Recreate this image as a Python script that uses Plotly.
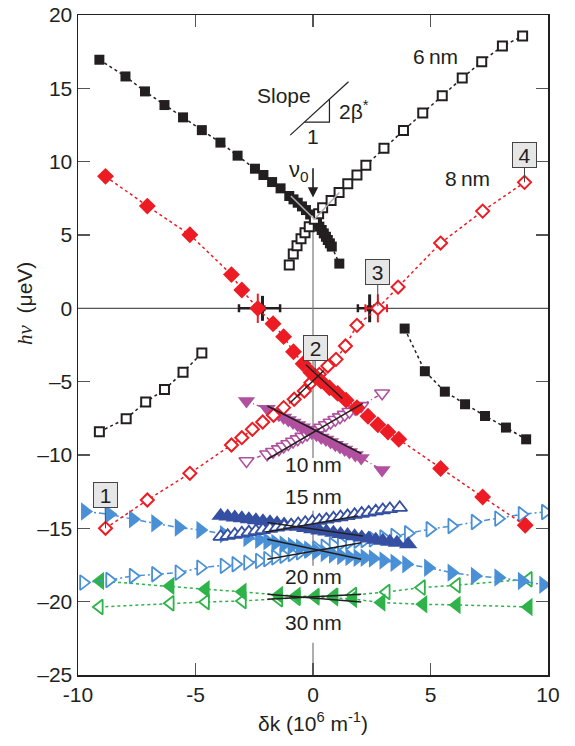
import plotly.graph_objects as go

# ---------------- data ----------------
# 6 nm
nm6_fill_x = [-9.09, -7.98, -7.15, -6.32, -5.53, -4.73, -3.94, -3.21, -2.47, -2.11, -1.74, -1.38, -1.01,
              -0.83, -0.65, -0.47, -0.30, -0.12, 0.06, 0.17, 0.27, 0.37, 0.46, 0.55, 0.63, 0.72, 0.80, 1.12]
nm6_fill_y = [16.95, 15.81, 14.79, 13.86, 13.02, 12.15, 11.30, 10.41, 9.52, 9.09, 8.61, 8.18, 7.66,
              7.43, 7.20, 6.95, 6.70, 6.40, 6.07, 5.82, 5.57, 5.34, 5.11, 4.88, 4.66, 4.43, 4.21, 3.05]
nm6_open_x = [-1.01, -0.84, -0.68, -0.51, -0.34, -0.16, 0.06, 0.24, 0.41, 0.77, 1.11, 1.48, 1.87, 2.25,
              3.02, 3.85, 4.67, 5.50, 6.35, 7.18, 8.06, 8.92]
nm6_open_y = [2.95, 3.70, 4.27, 4.75, 5.16, 5.57, 6.07, 6.45, 6.86, 7.36, 7.89, 8.50, 9.09, 9.75,
              10.91, 12.13, 13.31, 14.50, 15.70, 16.82, 17.88, 18.56]
nm6_low_open_x = [-9.09, -7.95, -7.12, -6.32, -5.53, -4.73]
nm6_low_open_y = [-8.41, -7.52, -6.39, -5.54, -4.36, -3.05]
nm6_low_fill_x = [3.90, 4.76, 5.61, 6.47, 7.32, 8.21, 9.07]
nm6_low_fill_y = [-1.38, -4.29, -5.68, -6.54, -7.34, -8.13, -8.93]

# 8 nm
nm8_fill_x = [-8.83, -7.05, -5.24, -3.47, -3.03, -2.35, -1.70, -1.25, -0.83, -0.42, -0.09, 0.10, 0.34,
              0.70, 1.05, 1.41, 1.87, 2.34, 2.76, 3.19, 3.65, 5.43, 7.22, 9.03]
nm8_fill_y = [9.00, 6.97, 5.02, 2.30, 1.25, 0.00, -1.05, -1.93, -2.96, -3.78, -4.38, -4.65, -4.96,
              -5.41, -5.80, -6.26, -6.77, -7.36, -7.94, -8.43, -8.93, -10.92, -12.86, -14.79]
nm8_open_x = [-8.83, -7.05, -5.24, -3.47, -3.03, -2.58, -2.14, -1.68, -1.25, -0.80, -0.37, -0.09, 0.27,
              0.63, 0.98, 1.38, 1.87, 2.76, 3.62, 5.43, 7.22, 9.00]
nm8_open_y = [-15.00, -13.07, -11.25, -9.32, -8.82, -8.25, -7.75, -7.29, -6.77, -6.20, -5.64, -5.07, -4.50,
              -3.93, -3.48, -2.57, -1.16, 0.00, 1.45, 4.45, 6.63, 8.59]

# 10 nm
nm10_x = [-2.83, -1.95, -1.70, -1.45, -1.25, -1.05, -0.85, -0.65, -0.45, -0.25, -0.05, 0.15, 0.35,
          0.55, 0.75, 0.95, 1.15, 1.35, 1.55, 1.80, 2.05, 2.94]
nm10_fill_y = [-6.32, -6.85, -7.05, -7.25, -7.45, -7.62, -7.78, -7.95, -8.10, -8.28, -8.45, -8.62, -8.80,
               -8.95, -9.12, -9.30, -9.46, -9.62, -9.80, -10.00, -10.20, -11.02]
nm10_open_y = [-10.41, -9.95, -9.78, -9.60, -9.42, -9.25, -9.08, -8.92, -8.75, -8.60, -8.45, -8.28, -8.12,
               -7.95, -7.78, -7.60, -7.42, -7.25, -7.05, -6.85, -6.65, -5.79]

# 15 nm
nm15_fill_x = [-3.93, -3.63, -3.33, -3.03, -2.73, -2.43, -2.13, -1.83, -1.53, -1.23, -0.93, -0.63, -0.33,
               -0.03, 0.27, 0.57, 0.87, 1.17, 1.47, 1.77, 2.07, 2.37, 2.67, 2.97, 3.27, 3.57, 4.05]
nm15_fill_y = [-14.15, -14.20, -14.26, -14.32, -14.38, -14.45, -14.52, -14.59, -14.66, -14.74, -14.82, -14.90,
               -14.98, -15.06, -15.14, -15.22, -15.30, -15.38, -15.46, -15.54, -15.62, -15.70, -15.78,
               -15.85, -15.92, -15.99, -16.09]
nm15_open_x = [-3.93, -3.63, -3.33, -3.03, -2.73, -2.43, -2.13, -1.83, -1.53, -1.23, -0.93, -0.63, -0.33,
               -0.03, 0.27, 0.57, 0.87, 1.17, 1.47, 1.77, 2.07, 2.37, 2.67, 2.97, 3.27, 3.69]
nm15_open_y = [-15.57, -15.50, -15.42, -15.34, -15.26, -15.18, -15.10, -15.02, -14.94, -14.86, -14.78,
               -14.70, -14.62, -14.55, -14.47, -14.39, -14.31, -14.23, -14.15, -14.07, -13.99, -13.91,
               -13.83, -13.75, -13.68, -13.59]

# 20 nm
nm20_fill_x = [-9.70, -8.66, -7.66, -6.71, -5.71, -4.79, -3.79, -2.79, -2.29, -1.94, -1.60, -1.25, -0.90,
               -0.55, -0.20, 0.15, 0.50, 0.85, 1.20, 1.55, 1.90, 2.20, 2.55, 3.00, 3.47, 3.97, 4.90,
               5.90, 6.89, 7.89, 8.89, 9.80]
nm20_fill_y = [-13.86, -14.04, -14.38, -14.66, -14.95, -15.11, -15.41, -15.66, -15.78, -15.88, -16.00,
               -16.10, -16.20, -16.32, -16.45, -16.57, -16.68, -16.78, -16.88, -16.95, -17.00, -17.00,
               -17.05, -17.20, -17.34, -17.45, -17.68, -18.02, -18.25, -18.36, -18.59, -18.85]
nm20_open_x = [-9.77, -8.66, -7.66, -6.71, -5.71, -4.79, -3.79, -3.29, -2.79, -2.29, -1.94, -1.60, -1.25,
               -0.90, -0.55, -0.20, 0.15, 0.50, 0.85, 1.20, 1.55, 1.90, 2.20, 2.55, 3.00, 3.47, 4.05,
               4.97, 5.90, 6.89, 7.89, 8.89, 9.88]
nm20_open_y = [-18.70, -18.52, -18.25, -18.13, -18.02, -17.68, -17.56, -17.45, -17.34, -17.22, -17.10,
               -16.98, -16.87, -16.75, -16.63, -16.50, -16.38, -16.26, -16.14, -16.03, -15.93, -15.85,
               -15.80, -15.75, -15.62, -15.52, -15.34, -15.06, -14.84, -14.57, -14.34, -14.04, -13.89]

# 30 nm
nm30_fill_x = [-9.06, -6.07, -4.57, -3.00, -1.45, -0.70, 0.10, 0.90, 1.70, 2.91, 4.69, 6.11, 9.17]
nm30_fill_y = [-18.59, -18.93, -19.15, -19.33, -19.55, -19.60, -19.66, -19.72, -19.82, -20.06, -20.18,
               -20.22, -20.36]
nm30_open_x = [-9.09, -6.07, -4.57, -3.00, -1.45, -0.70, 0.10, 0.90, 1.70, 3.12, 4.62, 6.11, 9.17]
nm30_open_y = [-20.36, -20.11, -20.02, -19.95, -19.84, -19.74, -19.65, -19.60, -19.55, -19.34, -19.04,
               -18.88, -18.47]

# fitted slope lines (x0, y0, x1, y1)
fit_lines_gray = [(-0.94, 7.66, 0.06, 6.07), (0.06, 6.07, 1.12, 7.89)]
fit_lines_black = [
    (-0.95, -6.40, 0.45, -4.25), (-0.30, -3.85, 1.25, -6.15),          # 8 nm
    (-1.94, -6.66, 2.05, -9.90), (-1.94, -10.29, 2.12, -6.48),         # 10 nm
    (-2.00, -15.25, 1.91, -14.16), (-1.94, -14.61, 2.12, -15.52),      # 15 nm
    (-1.94, -15.75, 2.05, -17.11), (-1.94, -17.11, 2.05, -15.98),      # 20 nm
    (-1.94, -19.50, 2.05, -20.02), (-1.94, -19.83, 2.05, -19.50),      # 30 nm
]

# error-bar points at hv = 0
err_black_x = [-2.15, 2.41]
err_black_xm = [1.00, 0.50]
err_black_xp = [0.75, 0.20]
err_black_ey = [0.85, 0.95]
err_red_x = [-2.35, 2.76]
err_red_xm = [0.15, 0.53]
err_red_xp = [0.15, 0.39]
err_red_ey = [1.00, 0.96]

# numbered callouts: label, box centre, target point
callout_labels = ["1", "2", "3", "4"]
callout_box = [(-8.85, -12.7), (0.09, -2.68), (2.75, 2.49), (9.0, 10.48)]
callout_pt = [(-8.83, -15.0), (0.09, -4.4), (2.76, 0.15), (9.0, 8.59)]

# width labels
width_labels = ["6\u2009nm", "8\u2009nm", "10\u2009nm", "15\u2009nm", "20\u2009nm", "30\u2009nm"]
width_pos = [(5.21, 17.2), (6.56, 8.86), (0.0, -10.63), (0.0, -12.85), (0.0, -18.25), (0.0, -21.4)]

x_ticks = [-10, -5, 0, 5, 10]
x_ticktext = ["-10", "-5", "0", "5", "10"]
y_ticks = [-25, -20, -15, -10, -5, 0, 5, 10, 15, 20]
y_ticktext = ["\u201325", "\u201320", "\u201315", "\u201310", "\u20135", "0", "5", "10", "15", "20"]

# ---------------- colours ----------------
BLACK = "#231f20"
RED = "#ed1c24"
PURPLE = "#b0509e"
DBLUE = "#3550a2"
LBLUE = "#4a90d6"
GREEN = "#2db34a"

fig = go.Figure()

# reference lines (y = 0, x = 0 segments)
AX = "#555555"
fig.add_shape(type="line", x0=-10, x1=10, y0=0, y1=0, line=dict(color=AX, width=1.2), layer="below")
for (ya, yb) in [(6.07, -10.2), (-13.8, -17.55), (-22.8, -25)]:
    fig.add_shape(type="line", x0=0, x1=0, y0=ya, y1=yb, line=dict(color="#777777", width=1.2), layer="below")


def series(x, y, sym, color, size, dash, filled, lw=1.5, mlw=2.0):
    fig.add_trace(go.Scatter(
        x=x, y=y, mode="lines+markers",
        line=dict(color=color, width=lw, dash=dash),
        marker=dict(symbol=sym, size=size,
                    color=color if filled else "white",
                    line=dict(color=color, width=0 if filled else mlw)),
        showlegend=False, hoverinfo="skip"))


# error bars first
fig.add_trace(go.Scatter(
    x=err_black_x, y=[0, 0], mode="markers",
    marker=dict(size=6, color=BLACK, symbol="square"),
    error_x=dict(type="data", symmetric=False, array=err_black_xp, arrayminus=err_black_xm,
                 color=BLACK, thickness=2.5, width=4),
    error_y=dict(type="data", array=err_black_ey, color=BLACK, thickness=3, width=0),
    showlegend=False, hoverinfo="skip"))
fig.add_trace(go.Scatter(
    x=err_red_x, y=[0, 0], mode="markers",
    marker=dict(size=1, color=RED),
    error_x=dict(type="data", symmetric=False, array=err_red_xp, arrayminus=err_red_xm,
                 color=RED, thickness=2, width=4),
    error_y=dict(type="data", array=err_red_ey, color=RED, thickness=2, width=0),
    showlegend=False, hoverinfo="skip"))

# 30 nm
series(nm30_open_x, nm30_open_y, "triangle-left", GREEN, 13, "3px,3px", False, mlw=1.8)
series(nm30_fill_x, nm30_fill_y, "triangle-left", GREEN, 16, "3px,3px", True)
# 20 nm
series(nm20_open_x, nm20_open_y, "triangle-right", LBLUE, 13, "6px,3px,2px,3px", False, mlw=1.8)
series(nm20_fill_x, nm20_fill_y, "triangle-right", LBLUE, 16, "6px,3px,2px,3px", True)
# 15 nm
series(nm15_fill_x, nm15_fill_y, "triangle-up", DBLUE, 16, "solid", True, lw=0.5)
series(nm15_open_x, nm15_open_y, "triangle-up", DBLUE, 13, "solid", False, lw=0.5, mlw=1.8)
# 10 nm
series(nm10_x, nm10_open_y, "triangle-down", PURPLE, 13, "4px,3px,1px,3px", False, mlw=1.6)
series(nm10_x, nm10_fill_y, "triangle-down", PURPLE, 15, "4px,3px,1px,3px", True)
# 8 nm
series(nm8_open_x, nm8_open_y, "diamond", RED, 10, "dot", False, mlw=2)
series(nm8_fill_x, nm8_fill_y, "diamond", RED, 13, "dot", True)
# 6 nm
series(nm6_low_open_x, nm6_low_open_y, "square", BLACK, 9, "dot", False, mlw=2)
series(nm6_low_fill_x, nm6_low_fill_y, "square", BLACK, 10, "dot", True)
series(nm6_fill_x, nm6_fill_y, "square", BLACK, 10, "dot", True)
series(nm6_open_x, nm6_open_y, "square", BLACK, 9, "dot", False, mlw=2)

# fitted lines
for (x0, y0, x1, y1) in fit_lines_gray:
    fig.add_trace(go.Scatter(x=[x0, x1], y=[y0, y1], mode="lines",
                             line=dict(color="#b0b0b0", width=1.5), showlegend=False, hoverinfo="skip"))
for (x0, y0, x1, y1) in fit_lines_black:
    fig.add_trace(go.Scatter(x=[x0, x1], y=[y0, y1], mode="lines",
                             line=dict(color=BLACK, width=1.5), showlegend=False, hoverinfo="skip"))

# slope triangle
fig.add_shape(type="line", x0=-0.97, y0=11.81, x1=1.51, y1=15.45, line=dict(color=BLACK, width=1.2))
fig.add_shape(type="path", path="M -0.36 12.70 L 0.70 12.70 L 0.70 14.26", line=dict(color=BLACK, width=1.2))

annotations = []
FONT = "Arial, Liberation Sans, Helvetica, sans-serif"
TF = dict(size=21, family=FONT, color=BLACK)
annotations.append(dict(x=-1.24, y=14.52, text="Slope", showarrow=False, font=TF))
annotations.append(dict(x=0.0, y=11.75, text="1", showarrow=False, font=TF))
annotations.append(dict(x=1.75, y=13.55, text="2β<sup>*</sup>", showarrow=False, font=TF))
annotations.append(dict(x=-0.58, y=9.35, text="ν<sub>0</sub>", showarrow=False, font=dict(size=22, family=FONT, color=BLACK)))
annotations.append(dict(x=0, y=7.55, ax=0, ay=9.65, axref="x", ayref="y", xref="x", yref="y", text="",
                        showarrow=True, arrowhead=2, arrowsize=1.3, arrowwidth=1.6, arrowcolor=BLACK))
for t, (xx, yy) in zip(width_labels, width_pos):
    annotations.append(dict(x=xx, y=yy, text=t, showarrow=False, font=TF))
for t, (bx, by), (px, py) in zip(callout_labels, callout_box, callout_pt):
    annotations.append(dict(x=px, y=py, ax=bx, ay=by, axref="x", ayref="y", text=t,
                            showarrow=True, arrowhead=0, arrowwidth=1, arrowcolor="#444",
                            bgcolor="#e6e6e6", bordercolor="#444", borderwidth=1, borderpad=2,
                            width=19, height=20, font=TF))
# axis titles placed as annotations
annotations.append(dict(xref="paper", x=0, xanchor="center", xshift=-53, yref="y", y=0.3,
                        text="<i style='font-family:Liberation Serif'>hν</i>  (μeV)", textangle=-90,
                        showarrow=False, font=TF))
annotations.append(dict(xref="x", x=0, yref="paper", y=0, yanchor="middle", yshift=-47,
                        text="δk (10<sup>6</sup> m<sup>-1</sup>)", showarrow=False, font=TF))

fig.update_layout(
    width=575, height=746,
    margin=dict(l=78, r=27, t=15, b=71),
    plot_bgcolor="white", paper_bgcolor="white",
    font=dict(family=FONT, size=21, color=BLACK),
    annotations=annotations,
    showlegend=False,
)
fig.update_xaxes(range=[-10, 10], tickvals=x_ticks, ticktext=x_ticktext,
                 ticks="inside", ticklen=12, tickwidth=1.3, tickcolor="#555",
                 showline=True, linecolor=BLACK, linewidth=1.5, mirror="ticks",
                 showgrid=False, zeroline=False, automargin=False,
                 ticklabeloverflow="allow", tickfont=dict(size=21))
fig.update_yaxes(range=[-25, 20], tickvals=y_ticks, ticktext=y_ticktext,
                 ticks="inside", ticklen=12, tickwidth=1.3, tickcolor="#555",
                 showline=True, linecolor=BLACK, linewidth=1.5, mirror="ticks",
                 showgrid=False, zeroline=False, automargin=False,
                 ticklabeloverflow="allow", tickfont=dict(size=21))

# remove the browser's default page margin/scrollbars so the figure sits at the window origin
fig.write_html("out.html", config={"displayModeBar": False, "staticPlot": True},
               post_script="document.body.style.margin='0';document.body.style.overflow='hidden';")
